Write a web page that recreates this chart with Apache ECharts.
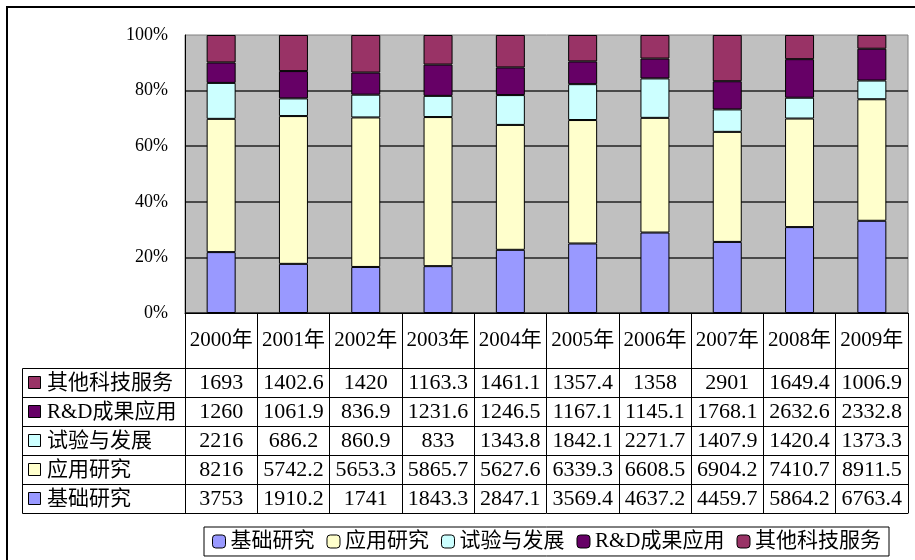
<!DOCTYPE html>
<html>
<head>
<meta charset="utf-8">
<script src="https://cdn.jsdelivr.net/npm/echarts@6/dist/echarts.min.js"></script>
<style>
html,body{margin:0;padding:0;background:#fff;}
#chart{width:915px;height:560px;}
</style>
</head>
<body>
<div id="chart"></div>
<script>
// categories
const years = ['2000年','2001年','2002年','2003年','2004年','2005年','2006年','2007年','2008年','2009年'];
// series values (万元)
const basic   = [3753, 1910.2, 1741, 1843.3, 2847.1, 3569.4, 4637.2, 4459.7, 5864.2, 6763.4];
const applied = [8216, 5742.2, 5653.3, 5865.7, 5627.6, 6339.3, 6608.5, 6904.2, 7410.7, 8911.5];
const trial   = [2216, 686.2, 860.9, 833, 1343.8, 1842.1, 2271.7, 1407.9, 1420.4, 1373.3];
const rdApp   = [1260, 1061.9, 836.9, 1231.6, 1246.5, 1167.1, 1145.1, 1768.1, 2632.6, 2332.8];
const other   = [1693, 1402.6, 1420, 1163.3, 1461.1, 1357.4, 1358, 2901, 1649.4, 1006.9];
const names   = ['基础研究','应用研究','试验与发展','R&D成果应用','其他科技服务'];
const colors  = ['#9999FF','#FFFFCC','#CCFFFF','#660066','#993366'];
const yTicks  = [0, 20, 40, 60, 80, 100];

const FONT = '"Liberation Serif","Noto Sans CJK SC",serif';
const seriesData = [basic, applied, trial, rdApp, other];
const totals = years.map((y, i) => seriesData.reduce((s, arr) => s + arr[i], 0));

// table layout
const gridLeft = 185, gridRight = 7, gridTop = 35, gridBottom = 247;
const headH = 55, rowH = 29;
const tableTop = 560 - gridBottom + headH;   // first value row top
const tableLeft = 22;

let chart = echarts.init(document.getElementById('chart'));

let series = seriesData.map((arr, k) => ({
    name: names[k],
    type: 'bar',
    stack: 'all',
    barWidth: 29,
    xAxisIndex: 0,
    itemStyle: { color: colors[k], borderColor: '#000', borderWidth: 1 },
    data: arr.map((v, i) => v / totals[i] * 100)
}));

// table rows from top to bottom
const rowOrder = [4, 3, 2, 1, 0];
let xAxes = [{
    type: 'category',
    data: years,
    position: 'bottom',
    gridIndex: 0,
    axisLine: { lineStyle: { color: '#000', width: 1 } },
    axisTick: { show: true, interval: 0, length: headH, lineStyle: { color: '#000' } },
    axisLabel: { interval: 0, margin: 27, verticalAlign: 'middle', color: '#000', fontSize: 21, fontFamily: FONT }
}];
rowOrder.forEach((k, r) => {
    xAxes.push({
        type: 'category',
        data: years,
        position: 'bottom',
        gridIndex: 0,
        offset: headH + r * rowH,
        axisLine: { lineStyle: { color: '#000', width: 1 } },
        axisTick: { show: true, interval: 0, length: rowH, lineStyle: { color: '#000' } },
        axisLabel: {
            interval: 0, margin: 15, verticalAlign: 'middle', color: '#000', fontSize: 22, fontFamily: FONT,
            formatter: (v, i) => String(seriesData[k][i])
        }
    });
});
xAxes.push({
    type: 'category',
    data: years,
    position: 'bottom',
    gridIndex: 0,
    offset: headH + 5 * rowH,
    axisLine: { lineStyle: { color: '#000', width: 1 } },
    axisTick: { show: false },
    axisLabel: { show: false }
});

// left column of the table
let graphics = [{
    type: 'rect',
    shape: { x: 7, y: 7, width: 1000, height: 1000 },
    style: { fill: 'none', stroke: '#000', lineWidth: 2 },
    silent: true
}, {
    type: 'rect',
    shape: { x: tableLeft + 0.5, y: tableTop + 0.5, width: gridLeft - tableLeft, height: rowH * 5 },
    style: { fill: 'none', stroke: '#000', lineWidth: 1 },
    silent: true
}];
rowOrder.forEach((k, r) => {
    let top = tableTop + r * rowH;
    if (r > 0) {
        graphics.push({
            type: 'line',
            shape: { x1: tableLeft, y1: top + 0.5, x2: gridLeft, y2: top + 0.5 },
            style: { stroke: '#000', lineWidth: 1 }, silent: true
        });
    }
    graphics.push({
        type: 'rect',
        shape: { x: tableLeft + 6.5, y: top + 8.5, width: 12, height: 12 },
        style: { fill: colors[k], stroke: '#000', lineWidth: 1 }, silent: true
    });
    graphics.push({
        type: 'text',
        x: tableLeft + 25, y: top + rowH / 2 + 1,
        style: { text: names[k], fill: '#000', fontSize: 21, fontFamily: FONT, verticalAlign: 'middle' },
        silent: true
    });
});

chart.setOption({
    animation: false,
    textStyle: { fontFamily: FONT },
    color: colors,
    grid: {
        left: gridLeft, right: gridRight, top: gridTop, bottom: gridBottom,
        show: true, backgroundColor: '#C0C0C0', borderColor: '#808080', borderWidth: 1
    },
    legend: {
        data: names,
        left: 204, top: 527,
        orient: 'horizontal',
        padding: [4, 8, 4, 8],
        itemGap: 12,
        itemWidth: 13, itemHeight: 13,
        borderColor: '#000', borderWidth: 1,
        itemStyle: { borderColor: '#000', borderWidth: 1 },
        textStyle: { fontSize: 21, color: '#000', fontFamily: FONT }
    },
    xAxis: xAxes,
    yAxis: {
        type: 'value',
        min: yTicks[0], max: yTicks[yTicks.length - 1], interval: 20,
        axisLine: { show: true, lineStyle: { color: '#000', width: 1 } },
        axisTick: { show: false },
        axisLabel: { margin: 17, color: '#000', fontSize: 18, fontFamily: FONT, formatter: '{value}%' },
        splitLine: { show: true, showMaxLine: false, lineStyle: { color: '#222', width: 1.5 } }
    },
    graphic: graphics,
    series: series
});
</script>
</body>
</html>
